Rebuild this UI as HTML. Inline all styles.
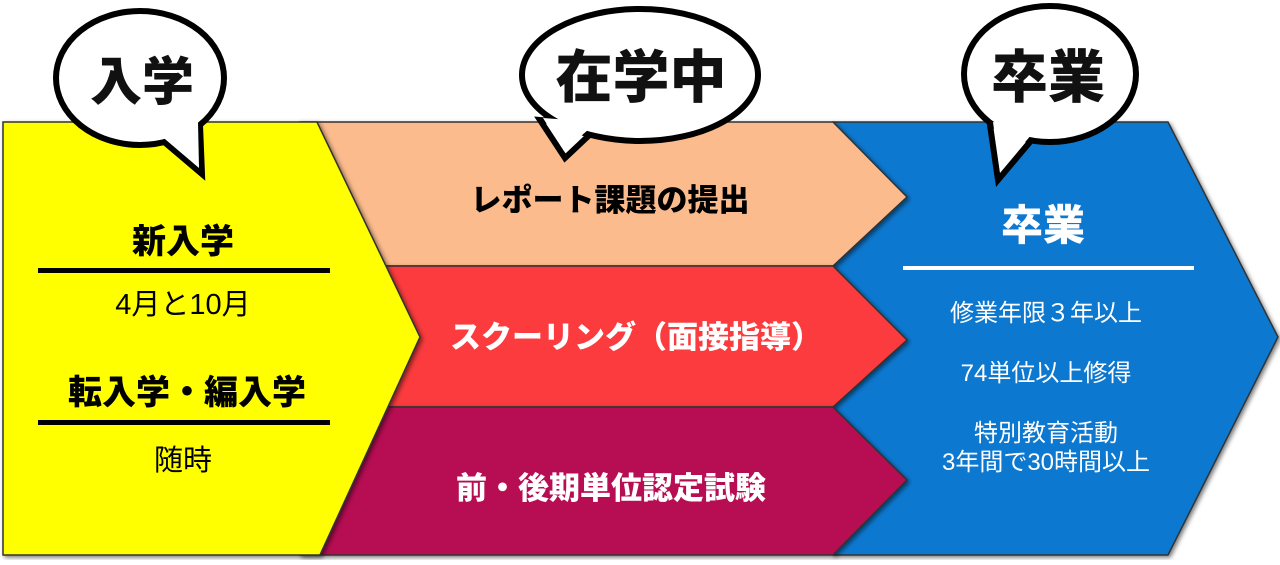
<!DOCTYPE html>
<html><head><meta charset="utf-8"><style>
body{margin:0;width:1280px;height:560px;background:#fff;overflow:hidden}
svg text{font-family:"Liberation Sans","Noto Sans CJK JP",sans-serif}
</style></head><body>
<svg width="1280" height="560" viewBox="0 0 1280 560" xmlns="http://www.w3.org/2000/svg">
<defs>
<filter id="sh" x="-5%" y="-5%" width="110%" height="110%"><feDropShadow dx="2" dy="2" stdDeviation="2" flood-opacity="0.5"/></filter>
</defs>
<!-- blue -->
<polygon points="833,122 1168,122 1278,337 1168,555 833,555" fill="#0878cf" stroke="#333" stroke-width="1.5" filter="url(#sh)"/>
<!-- peach -->
<polygon points="300,122 833,122 907,197 833,266 300,266" fill="#fbbb8c" stroke="#333" stroke-width="1.5" filter="url(#sh)"/>
<!-- red -->
<polygon points="300,266 833,266 907,340 833,407 300,407" fill="#fb3a3c" stroke="#333" stroke-width="1.5" filter="url(#sh)"/>
<!-- purple -->
<polygon points="300,407 833,407 907,480 833,555 300,555" fill="#b60a52" stroke="#333" stroke-width="1.5" filter="url(#sh)"/>
<!-- yellow -->
<polygon points="3,122 317,122 420,337 320,555 3,555" fill="#ffff00" stroke="#333" stroke-width="1.5" filter="url(#sh)"/>

<!-- bubbles -->
<g fill="#fff" stroke="#000" stroke-width="6" stroke-linejoin="miter">
<polygon points="150,130 202,174 200,125"/>
<polygon points="540,120 565,158 600,125"/>
<polygon points="990,125 998,180 1040,130"/>
<ellipse cx="140" cy="78" rx="84" ry="67"/>
<ellipse cx="640" cy="75" rx="118" ry="66"/>
<ellipse cx="1050" cy="74" rx="86" ry="68"/>
</g>
<g fill="#fff">
<polygon points="152,128 199,168 198,122"/>
<polygon points="543,118 564,151 597,122"/>
<polygon points="993,122 1000,172 1037,128"/>
</g>
<g font-weight="900" text-anchor="middle" fill="#111">
<text x="142" y="100" font-size="52">入学</text>
<text x="641" y="97" font-size="57">在学中</text>
<text x="1048" y="97" font-size="57">卒業</text>
</g>

<!-- yellow text -->
<g text-anchor="middle" fill="#000">
<text x="183" y="253" font-size="34" font-weight="900">新入学</text>
<rect x="38" y="268" width="292" height="5"/>
<text x="183" y="314" font-size="29">4月と10月</text>
<text x="187" y="404" font-size="34" font-weight="900">転入学・編入学</text>
<rect x="38" y="420" width="292" height="5"/>
<text x="183" y="470" font-size="29">随時</text>
</g>
<g text-anchor="middle" font-weight="900" font-size="31">
<text x="610" y="211" fill="#000">レポート課題の提出</text>
<text x="636" y="348" fill="#fff">スクーリング（面接指導）</text>
<text x="611" y="499" fill="#fff">前・後期単位認定試験</text>
</g>
<g text-anchor="middle" fill="#fff">
<text x="1043" y="240" font-size="42" font-weight="900">卒業</text>
<rect x="903" y="266" width="291" height="4"/>
<text x="1046" y="321" font-size="24">修業年限３年以上</text>
<text x="1046" y="381" font-size="24">74単位以上修得</text>
<text x="1046" y="441" font-size="24">特別教育活動</text>
<text x="1046" y="470" font-size="24">3年間で30時間以上</text>
</g>
</svg>
</body></html>
